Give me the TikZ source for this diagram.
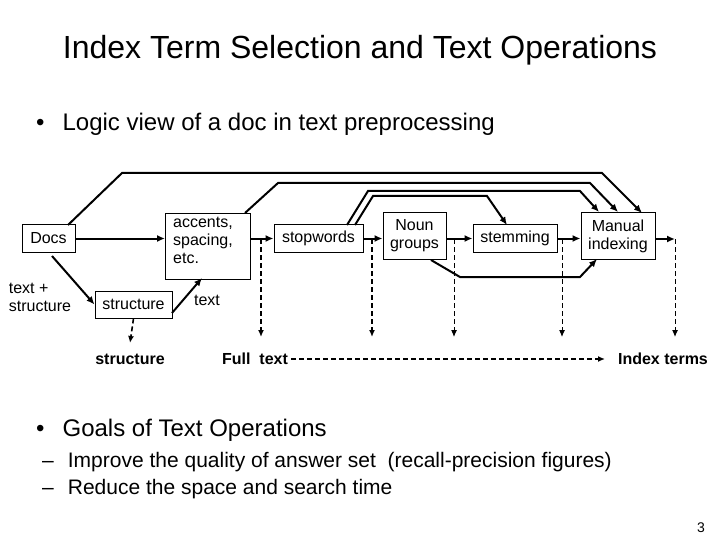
\documentclass[tikz,border=0pt]{standalone}
\usepackage{fontspec}
\setmainfont{Liberation Sans}
\usetikzlibrary{arrows.meta}
\begin{document}
\begin{tikzpicture}[x=1pt,y=-1pt,
  box/.style={draw,line width=1pt,inner sep=0pt,align=left,font=\fontsize{16}{18}\selectfont},
  ar/.style={line width=2pt,-{Latex[length=8pt,width=7pt]}},
  da/.style={line width=1.6pt,dash pattern=on 5pt off 3pt,-{Latex[length=7pt,width=6pt]}},
  lbl/.style={font=\fontsize{16}{18}\selectfont},
  blb/.style={font=\bfseries\fontsize{16}{18}\selectfont}]
\useasboundingbox[fill=white] (0,0) rectangle (720,540);
\node (title) at (360,50) {\fontsize{32}{36}\selectfont Index Term Selection and Text Operations};
\node[anchor=west,inner sep=0pt] (b1) at (36,124) {\fontsize{24}{28}\selectfont •\hspace{18pt}Logic view of a doc in text preprocessing};
\node[anchor=west,inner sep=0pt] (b2) at (36,430) {\fontsize{24}{28}\selectfont •\hspace{18pt}Goals of Text Operations};
\node[anchor=west,inner sep=0pt] (s1) at (42,462) {\fontsize{21}{24}\selectfont –\hspace{14pt}Improve the quality of answer set\ \ (recall-precision figures)};
\node[anchor=west,inner sep=0pt] (s2) at (42,489) {\fontsize{21}{24}\selectfont –\hspace{14pt}Reduce the space and search time};
\node (pg) at (701,528) {\fontsize{14}{16}\selectfont 3};

\node[box,minimum width=53pt,minimum height=27pt,align=center] (docs) at (48.5,238.5) {Docs};
\node[box,minimum width=85pt,minimum height=66pt,anchor=north west,inner sep=0pt] (acc) at (165,213) {};
\node[lbl,align=left,anchor=north west,inner sep=0pt] (acct) at (173,217) {accents,\\spacing,\\etc.};
\node[box,minimum width=89pt,minimum height=27pt,align=center] (stop) at (318.5,238.5) {stopwords};
\node[box,minimum width=77pt,minimum height=27pt,align=center] (str) at (133.5,304.5) {structure};
\node[box,minimum width=63pt,minimum height=46pt,align=center] (noun) at (414.5,236) {Noun\\groups};
\node[box,minimum width=84pt,minimum height=27pt,align=center] (stem) at (515,238.5) {stemming};
\node[box,minimum width=74pt,minimum height=46pt,align=center] (man) at (618,236) {Manual\\indexing};

\node[lbl,align=left] (ts) at (40,297) {text +\\structure};
\node[lbl] (tt) at (207,300) {text};
\node[blb] (ostr) at (130,359) {structure};
\node[blb] (oft) at (255,359) {Full\ \ text};
\node[blb] (oit) at (663,359) {Index terms};

\coordinate (c1) at (261,239);
\coordinate (c2) at (372,239);
\coordinate (c3) at (454,239);
\coordinate (c4) at (562,239);
\coordinate (c5) at (675,239);

\draw[ar] (docs) -- (acc.west|-docs);
\draw[ar] (acc.east|-stop) -- (stop);
\draw[ar] (stop) -- (noun.west|-stop);
\draw[ar] (noun.east|-stem) -- (stem);
\draw[ar] (stem) -- (man.west|-stem);
\draw[ar] (man.east|-c5) -- (c5);
\draw[ar] (52,256) -- (str.west);
\draw[ar] (172,313) -- (202,278);
\draw[ar] (431,260) -- (460,277) -- (580,277) -- (597,259);

\draw[ar] (68,225) -- (122,173) -- (602,173) -- (642,213);
\draw[ar] (245,213) -- (278,183) -- (590,183) -- (618,212);
\draw[ar] (347,225) -- (368,191) -- (580,191) -- (599,212);
\draw[ar] (355,225) -- (373,196) -- (487,196) -- (507,225);

\draw[da] (c1) -- (261,337);
\draw[da] (c2) -- (372,337);
\draw[da,line width=1pt] (c3) -- (454,337);
\draw[da,line width=1pt] (c4) -- (562,337);
\draw[da,line width=1pt] (c5) -- (675,337);
\draw[da] (str.south) -- (130,343);
\draw[da] (oft.east) -- (605,359);
\end{tikzpicture}
\end{document}
